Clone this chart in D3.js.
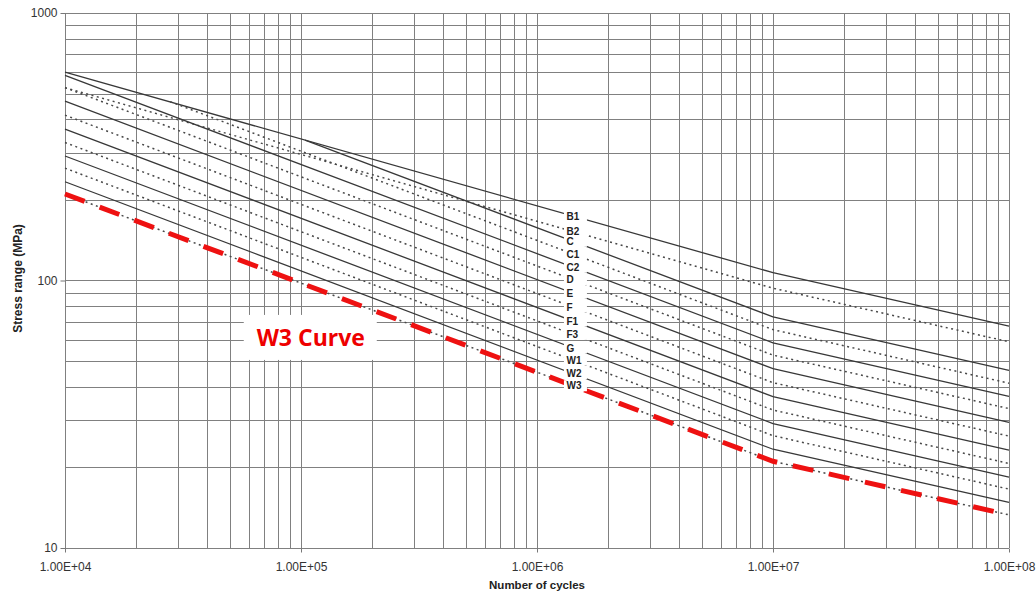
<!DOCTYPE html>
<html lang="en">
<head>
    <meta charset="UTF-8">
    <title>S-N curves</title>
    <script src="https://d3js.org/d3.v7.min.js"></script>
    <style>
        body { margin: 0; background: #fff; }
        svg { display: block; font-family: "Liberation Sans", Arial, sans-serif; }
    </style>
</head>
<body>
    <div id="chart"></div>
    <script>
        // S-N curve names, top to bottom
        const curveNames = ["B1", "B2", "C", "C1", "C2", "D", "E", "F", "F1", "F3", "G", "W1", "W2", "W3"];

        // first point of each curve (cycles, stress in MPa)
        const startCycles = [1e4, 1e4, 1.04e5, 2.79e4, 1e4, 1e4, 1e4, 1e4, 1e4, 1e4, 1e4, 1e4, 1e4, 1e4];
        const startStress = [601, 526, 335, 466, 585, 526, 468, 415, 368, 328, 292, 263, 234, 210.5];

        // slope change at 1e7 cycles, curves end at 1e8 cycles
        const kneeCycles = 1e7;
        const kneeStress = [107.0, 93.6, 73.1, 65.5, 58.5, 52.6, 46.8, 41.5, 36.8, 32.8, 29.2, 26.3, 23.4, 21.1];
        const endCycles = 1e8;
        const endStress = [67.5, 59.0, 46.1, 41.3, 36.9, 33.2, 29.5, 26.2, 23.2, 20.7, 18.4, 16.6, 14.8, 13.3];

        // where the curve names sit on the lines
        const labelCycles = 1.42e6;

        const xTickValues = [1e4, 1e5, 1e6, 1e7, 1e8];
        const xTickLabels = ["1.00E+04", "1.00E+05", "1.00E+06", "1.00E+07", "1.00E+08"];
        const yTickValues = [10, 100, 1000];
        const yTickLabels = ["10", "100", "1000"];

        const highlighted = "W3";
        const highlightText = "W3 Curve";
        const highlightTextAt = { cycles: 1.1e5, stress: 61 };

        const width = 1036, height = 592;
        const margin = { top: 13, right: 27, bottom: 44, left: 65 };

        const x = d3.scaleLog()
            .domain([1e4, 1e8])
            .range([margin.left, width - margin.right]);

        const y = d3.scaleLog()
            .domain([10, 1000])
            .range([height - margin.bottom, margin.top]);

        const svg = d3.select("#chart")
            .append("svg")
            .attr("width", width)
            .attr("height", height);

        const px = v => Math.round(v) + 0.5;

        // grid
        const grid = svg.append("g")
            .attr("stroke", "#808080")
            .attr("stroke-width", 1)
            .attr("shape-rendering", "crispEdges");

        grid.selectAll(".vx")
            .data(x.ticks())
            .join("line")
            .attr("x1", d => px(x(d)))
            .attr("x2", d => px(x(d)))
            .attr("y1", y.range()[1])
            .attr("y2", y.range()[0]);

        grid.selectAll(".hy")
            .data(y.ticks())
            .join("line")
            .attr("x1", x.range()[0])
            .attr("x2", x.range()[1])
            .attr("y1", d => px(y(d)))
            .attr("y2", d => px(y(d)));

        // axes
        const yAxis = svg.append("g")
            .attr("transform", `translate(${px(x.range()[0])},0)`)
            .call(d3.axisLeft(y)
                .tickValues(yTickValues)
                .tickFormat((d, i) => yTickLabels[i])
                .tickSize(5)
                .tickPadding(3));

        const xAxis = svg.append("g")
            .attr("transform", `translate(0,${px(y.range()[0])})`)
            .call(d3.axisBottom(x)
                .tickValues(xTickValues)
                .tickFormat((d, i) => xTickLabels[i])
                .tickSize(4)
                .tickPadding(10));

        [xAxis, yAxis].forEach(a => {
            a.select(".domain").remove();
            a.selectAll(".tick line").attr("stroke", "#777");
            a.selectAll("text")
                .attr("font-family", "'Liberation Sans', Arial, sans-serif")
                .attr("font-size", 12)
                .attr("fill", "#333");
        });

        svg.append("text")
            .attr("x", (x.range()[0] + x.range()[1]) / 2)
            .attr("y", 589)
            .attr("text-anchor", "middle")
            .attr("font-size", 11.5)
            .attr("font-weight", "bold")
            .attr("fill", "#222")
            .text("Number of cycles");

        svg.append("text")
            .attr("transform", `translate(22,${(y.range()[0] + y.range()[1]) / 2 - 2}) rotate(-90)`)
            .attr("text-anchor", "middle")
            .attr("font-size", 12)
            .attr("font-weight", "bold")
            .attr("fill", "#222")
            .text("Stress range (MPa)");

        // white box behind the "W3 Curve" note
        const noteX = x(highlightTextAt.cycles), noteY = y(highlightTextAt.stress);
        svg.append("rect")
            .attr("x", noteX - 67)
            .attr("y", noteY - 23)
            .attr("width", 133)
            .attr("height", 45)
            .attr("fill", "#fff");

        // curves
        const curves = curveNames.map((name, i) => ({
            name,
            points: [
                { n: startCycles[i], s: startStress[i] },
                { n: kneeCycles, s: kneeStress[i] },
                { n: endCycles, s: endStress[i] }
            ]
        }));

        const line = d3.line()
            .x(d => x(d.n))
            .y(d => y(d.s));

        svg.append("g")
            .selectAll("path")
            .data(curves)
            .join("path")
            .attr("fill", "none")
            .attr("stroke", (d, i) => i % 2 === 0 ? "#383838" : "#484848")
            .attr("stroke-width", (d, i) => i % 2 === 0 ? 1.3 : 1.5)
            .attr("stroke-dasharray", (d, i) => i % 2 === 0 ? null : "2,3.5")
            .attr("d", d => line(d.points));

        // red highlight over the W3 curve
        const w3 = curves.find(c => c.name === highlighted);
        svg.append("path")
            .datum(w3.points)
            .attr("fill", "none")
            .attr("stroke", "#ee1111")
            .attr("stroke-width", 5)
            .attr("stroke-dasharray", "21,16")
            .attr("d", line);

        // stress on a curve at a given cycle count (log-log interpolation)
        function stressAt(points, n) {
            for (let k = 0; k < points.length - 1; k++) {
                const a = points[k], b = points[k + 1];
                if (n >= a.n && n <= b.n) {
                    const t = (Math.log10(n) - Math.log10(a.n)) / (Math.log10(b.n) - Math.log10(a.n));
                    return Math.pow(10, Math.log10(a.s) + t * (Math.log10(b.s) - Math.log10(a.s)));
                }
            }
            return points[0].s;
        }

        // curve labels
        const lx = x(labelCycles);
        const labels = svg.append("g")
            .selectAll("g")
            .data(curves)
            .join("g")
            .attr("transform", d => `translate(${lx},${y(stressAt(d.points, labelCycles))})`);

        labels.append("rect")
            .attr("x", -9)
            .attr("y", -5.5)
            .attr("width", 23)
            .attr("height", 11)
            .attr("fill", "#fff");

        labels.append("text")
            .attr("x", -6.5)
            .attr("y", 3.7)
            .attr("font-size", 10)
            .attr("font-weight", "bold")
            .attr("fill", "#222")
            .text(d => d.name);

        svg.append("text")
            .attr("x", noteX)
            .attr("y", noteY + 8)
            .attr("text-anchor", "middle")
            .attr("font-family", "'Open Sans', sans-serif")
            .attr("font-size", 23)
            .attr("font-weight", "bold")
            .attr("fill", "#ee0000")
            .text(highlightText);
    </script>
</body>
</html>
